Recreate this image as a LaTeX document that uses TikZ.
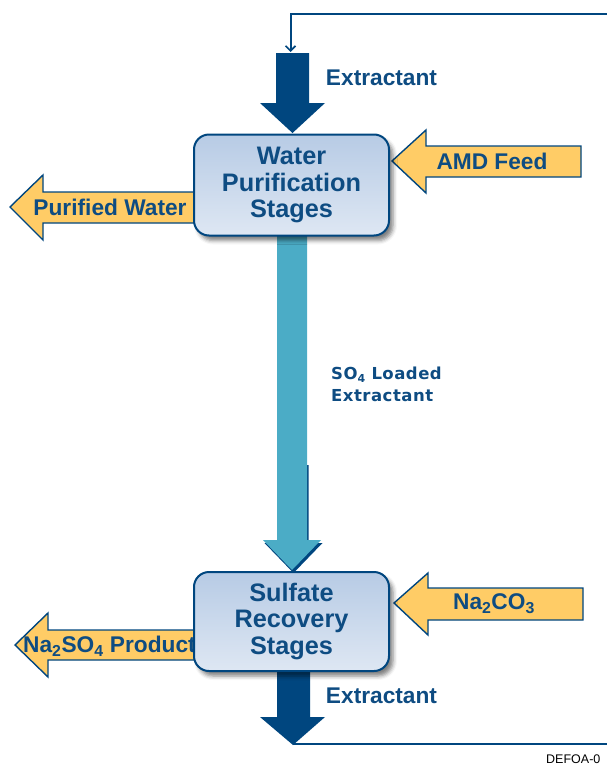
\documentclass[tikz,border=0pt]{standalone}
\usepackage{fontspec}
\setmainfont{Liberation Sans}
\newfontfamily\dejab{DejaVu Sans Bold}[LetterSpace=3]
\usetikzlibrary{shadows.blur,arrows.meta}
\definecolor{dblue}{RGB}{0,70,127}
\definecolor{tblue}{RGB}{14,76,130}
\definecolor{feedorange}{RGB}{255,204,102}
\definecolor{pipecyan}{RGB}{75,172,198}
\definecolor{boxtop}{RGB}{183,203,229}
\definecolor{boxbot}{RGB}{222,231,243}
\begin{document}
\begin{tikzpicture}[x=1pt,y=-1pt,
  lbl/.style={text=tblue,font=\fontsize{22.7}{24}\selectfont\bfseries,inner sep=0pt},
  stagebox/.style={draw=dblue,line width=2pt,rounded corners=15pt,top color=boxtop,bottom color=boxbot,
    minimum width=195pt,minimum height=101pt,align=center,text=tblue,inner sep=0pt,
    font=\fontsize{25.3}{26.5}\selectfont\bfseries,
    blur shadow={shadow xshift=4pt,shadow yshift=-5pt,shadow blur radius=4pt,shadow opacity=50}},
  feedarrow/.style={draw=dblue,line width=1.4pt,fill=feedorange,line join=miter},
  bigarrow/.style={fill=dblue},
  loop/.style={draw=dblue,line width=2pt}]
\useasboundingbox (0,0) rectangle (607,766);
\clip (0,0) rectangle (607,766);

% orange feed arrows (drawn first, boxes cover their ends)
\path[feedarrow] (10,207) -- (43,175) -- (43,192) -- (200,192) -- (200,223) -- (43,223) -- (43,240) -- cycle;
\node[lbl] (pw) at (110,207.5) {Purified Water};
\path[feedarrow] (15,645) -- (48,613) -- (48,630) -- (200,630) -- (200,660) -- (48,660) -- (48,677) -- cycle;
\node[lbl,anchor=west] (prod) at (23,646) {Na\textsubscript{2}SO\textsubscript{4} Product};
\path[feedarrow] (392,161) -- (426,130) -- (426,146) -- (581,146) -- (581,177) -- (426,177) -- (426,193) -- cycle;
\node[lbl] (amd) at (492,161.5) {AMD Feed};
\path[feedarrow] (394,603) -- (428,573) -- (428,588) -- (583,588) -- (583,620) -- (428,620) -- (428,635) -- cycle;
\node[lbl] (naco) at (494,604) {Na\textsubscript{2}CO\textsubscript{3}};

% loaded extractant pipe
\fill[dblue] (278.5,465) -- (308.5,465) -- (308.5,543) -- (322.5,543) -- (293.5,573) -- (264.5,543) -- (278.5,543) -- cycle;
\fill[pipecyan] (277,235) -- (307,235) -- (307,540) -- (321,540) -- (292,570) -- (263,540) -- (277,540) -- cycle;
\node[text=tblue,font=\dejab\fontsize{16.5}{22}\selectfont,align=left,anchor=west,inner sep=0pt] (so4) at (331,384)
  {SO\raisebox{-0.35ex}{\fontsize{11}{11}\selectfont 4} Loaded\\Extractant};

% big extractant arrows
\path[bigarrow] (276,53) -- (309,53) -- (309,103) -- (325,103) -- (292.5,133) -- (260,103) -- (276,103) -- cycle;
\node[lbl] (ext1) at (381.5,78) {Extractant};
\path[bigarrow] (277,665) -- (310,665) -- (310,717) -- (325,717) -- (293,745) -- (260,717) -- (277,717) -- cycle;
\node[lbl] (ext2) at (381.5,696) {Extractant};

% stage boxes
\node[stagebox] (wps) at (291.5,185) {Water\\Purification\\Stages};
\node[stagebox,minimum height=99pt] (srs) at (291.5,621.5) {Sulfate\\Recovery\\Stages};

% recycle loop
\coordinate (bt) at (293,744);
\coordinate (rb) at (610,744);
\coordinate (rt) at (610,14);
\coordinate (tin) at (290.5,52);
\draw[loop] (bt) -- (rb);
\draw[loop,-{Straight Barb[length=5pt,width=10pt,line width=1.6pt]}] (rt) -| (tin);

\node[anchor=base west,inner sep=0pt,font=\fontsize{12.5}{13}\selectfont] (ref) at (546,763) {DEFOA-0};
\end{tikzpicture}
\end{document}
